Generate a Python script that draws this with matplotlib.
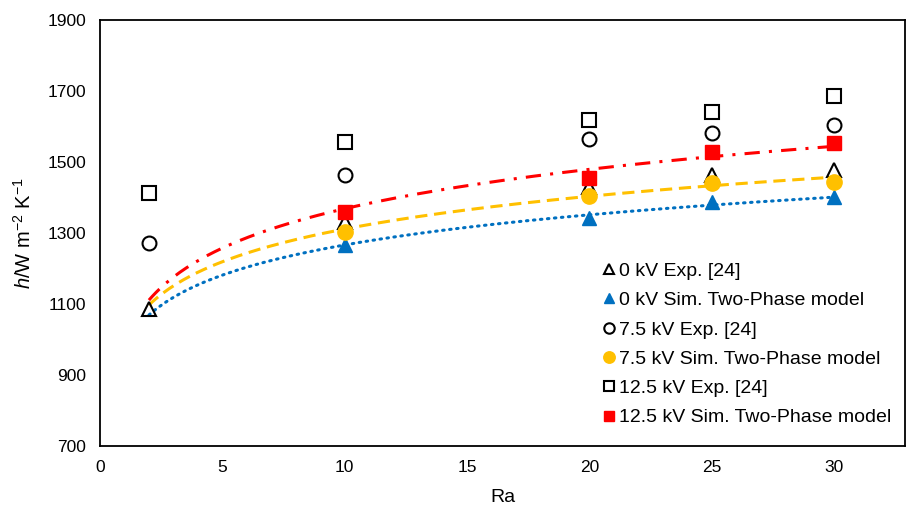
import numpy as np
import matplotlib
matplotlib.use('Agg')
import matplotlib.pyplot as plt

plt.rcParams['font.family'] = ['Liberation Sans', 'DejaVu Sans']
plt.rcParams['mathtext.fontset'] = 'custom'
plt.rcParams['mathtext.rm'] = 'Liberation Sans'
plt.rcParams['mathtext.it'] = 'Liberation Sans:italic'

# data
ra_exp = [2, 10, 20, 25, 30]
exp_0kv = [1085, 1330, 1430, 1463, 1477]
exp_75kv = [1273, 1462, 1566, 1583, 1603]
exp_125kv = [1414, 1557, 1617, 1642, 1685]

ra_sim = [10, 20, 25, 30]
sim_0kv = [1265, 1343, 1388, 1400]
sim_75kv = [1302, 1405, 1440, 1443]
sim_125kv = [1360, 1454, 1528, 1553]

# logarithmic trend lines y = a + b*ln(Ra), coefficients
trend_0kv = (984, 122.6)
trend_75kv = (1005, 133)
trend_125kv = (1000, 160)

fig = plt.figure(figsize=(9.12, 5.07), dpi=100)
ax = fig.add_axes([100 / 912, 1 - 446 / 507, 805 / 912, 426 / 507])

ra_line = np.linspace(2, 30, 200)
ax.plot(ra_line, trend_0kv[0] + trend_0kv[1] * np.log(ra_line), color='#0070C0', lw=2.2,
        linestyle=(0, (0.5, 1.8)), dash_capstyle='round')
ax.plot(ra_line, trend_75kv[0] + trend_75kv[1] * np.log(ra_line), color='#FFC000', lw=2.2,
        linestyle=(0, (4, 2.2)))
ax.plot(ra_line, trend_125kv[0] + trend_125kv[1] * np.log(ra_line), color='#FF0000', lw=2.2,
        linestyle=(0, (5, 3, 1, 3)))

ms = 10
ax.plot(ra_exp, exp_0kv, '^', ms=ms, mfc='none', mec='black', mew=1.5, ls='none', label='0 kV Exp. [24]')
ax.plot(ra_sim, sim_0kv, '^', ms=ms, color='#0070C0', ls='none', label='0 kV Sim. Two-Phase model')
ax.plot(ra_exp, exp_75kv, 'o', ms=ms, mfc='none', mec='black', mew=1.5, ls='none', label='7.5 kV Exp. [24]')
ax.plot(ra_sim, sim_75kv, 'o', ms=ms + 1, color='#FFC000', ls='none', label='7.5 kV Sim. Two-Phase model')
ax.plot(ra_exp, exp_125kv, 's', ms=ms - 0.5, mfc='none', mec='black', mew=1.5, ls='none', label='12.5 kV Exp. [24]')
ax.plot(ra_sim, sim_125kv, 's', ms=ms - 0.5, color='#FF0000', ls='none', label='12.5 kV Sim. Two-Phase model')

ax.set_xlim(0, 32.9)
ax.set_ylim(700, 1900)
ax.set_xticks(np.arange(0, 31, 5))
ax.set_yticks(np.arange(700, 1901, 200))
ax.tick_params(length=0, labelsize=12.5, pad=10)
for s in ax.spines.values():
    s.set_linewidth(1.3)
ax.set_xlabel('Ra', fontsize=14, labelpad=10)
ax.set_ylabel(r'$\mathit{h}$/W m$^{\mathrm{-2}}$ K$^{\mathrm{-1}}$', fontsize=14.5, labelpad=9)

ax.legend(loc='lower right', bbox_to_anchor=(1.005, 0.005), frameon=False, fontsize=14,
          handlelength=0.6, handletextpad=0.25, labelspacing=0.6, markerscale=0.75)

fig.savefig('out.png', dpi=100)
